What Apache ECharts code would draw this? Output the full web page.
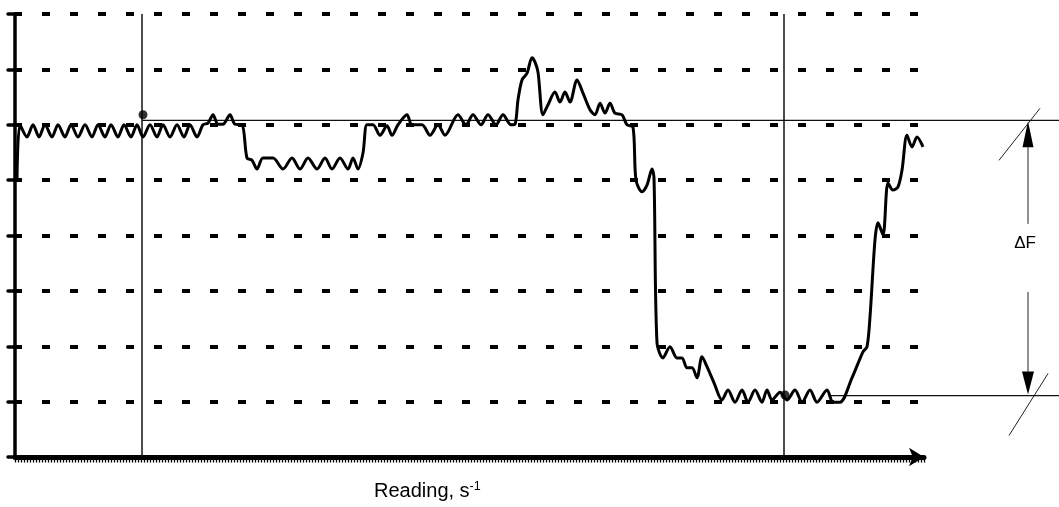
<!DOCTYPE html>
<html>
<head>
<meta charset="utf-8">
<script src="https://cdn.jsdelivr.net/npm/echarts@6/dist/echarts.min.js"></script>
<style>
  html, body { margin: 0; padding: 0; background: #fff; }
  #c { width: 1059px; height: 507px; }
</style>
</head>
<body>
<div id="c"></div>
<script>
// ---- data ----
// reading (x) positions of the trace
const readingX = [
  2, 5, 12, 18, 24, 30, 37, 43, 50, 56, 63, 70, 77, 83, 90, 96, 103, 109, 116, 122,
  128, 135, 142, 148, 155, 162, 169, 175, 182, 188, 193, 198, 203, 208, 215, 220, 227, 232,
  237, 242, 248, 258, 268, 277, 285, 293, 302, 310, 317, 325, 333, 338, 343, 348,
  352, 358, 365, 372, 377, 383, 392, 397, 407, 415, 423, 430,
  443, 451, 458, 466, 473, 481, 488, 496, 500,
  503, 507, 512, 517, 520, 523, 528, 533, 540, 545, 550, 555, 562, 568, 575, 580,
  585, 590, 595, 600, 607, 612, 618, 621, 627, 632, 637, 639, 642,
  648, 655, 662, 667, 672, 677, 682, 687, 692, 699,
  707, 713, 720, 727, 733, 740, 747, 752, 757, 765, 772, 780, 787, 795, 802, 812, 818, 825,
  837, 848, 852, 855, 860, 863, 868, 873, 878, 883, 887, 892, 897, 902, 908
];
// signal level (y) of the trace
const signalY = [
  5.00, 6.00, 5.78, 6.00, 5.78, 6.00, 5.78, 6.00, 5.78, 6.00, 5.78, 6.00, 5.78, 6.00, 5.78, 6.00, 5.78, 6.00, 5.78, 6.00,
  5.78, 6.00, 5.78, 6.00, 5.78, 6.00, 5.78, 6.00, 5.78, 6.00, 6.03, 6.18, 6.01, 6.01, 6.18, 6.01, 6.00, 5.40,
  5.36, 5.20, 5.40, 5.40, 5.20, 5.40, 5.20, 5.40, 5.20, 5.40, 5.20, 5.40, 5.20, 5.40, 5.20, 5.49,
  6.00, 6.00, 5.81, 5.98, 5.81, 6.00, 6.18, 6.00, 6.00, 5.81, 6.00, 5.81,
  6.18, 6.00, 6.18, 6.00, 6.18, 6.00, 6.18, 6.00, 6.01,
  6.45, 6.81, 6.93, 7.21, 7.13, 6.95, 6.18, 6.36, 6.59, 6.41, 6.59, 6.41, 6.81, 6.57, 6.27, 6.18,
  6.39, 6.21, 6.39, 6.21, 6.18, 6.00, 5.96, 5.00, 4.79, 4.91, 5.20, 5.04, 2.06,
  1.79, 1.99, 1.79, 1.79, 1.61, 1.61, 1.43, 1.81, 1.63, 1.34,
  1.03, 1.21, 0.99, 1.21, 0.99, 1.21, 0.99, 1.21, 1.03, 1.17, 1.03, 1.21, 0.99, 1.21, 0.99, 1.21, 0.99, 0.99,
  1.43, 1.90, 1.99, 2.53, 3.92, 4.23, 4.01, 4.95, 4.82, 4.88, 5.18, 5.81, 5.60, 5.78, 5.60
];
// vertical marker readings
const markerX = [127, 768.5];
// dots where the markers meet the reference levels
const dotX = [128, 770];
const dotY = [6.18, 1.12];
// reference levels (upper and lower) and where they start
const refLevels = [6.08, 1.11];
const refStartX = [127, 815];
// ΔF annotation
const deltaX = 1013;
const deltaLabel = 'ΔF';
const deltaLabelLevel = 3.85;
const deltaShaftTop = 4.21;
const deltaShaftBottom = 2.98;
// axis
const yMin = 0, yMax = 8, yStep = 1;
const xMin = 0, xMax = 909, xStep = 3;
const xTitle = 'Reading, s';
const xTitleSup = '-1';

const tracePoints = readingX.map((x, i) => [x, signalY[i]]);
const dots = dotX.map((x, i) => [x, dotY[i]]);

const chart = echarts.init(document.getElementById('c'));
const option = {
  animation: false,
  backgroundColor: '#fff',
  title: {
    text: '{a|' + xTitle + '}{b|' + xTitleSup + '}',
    left: 374, top: 480, padding: 0,
    textStyle: {
      fontWeight: 'normal',
      rich: {
        a: { fontFamily: 'Liberation Sans', fontWeight: 'normal', fontSize: 20, color: '#000', lineHeight: 23 },
        b: { fontFamily: 'Liberation Sans', fontWeight: 'normal', fontSize: 12.5, color: '#000', verticalAlign: 'top', lineHeight: 12 }
      }
    }
  },
  grid: { left: 15, right: 135, top: 14, bottom: 50 },
  xAxis: {
    type: 'value', min: xMin, max: xMax, interval: xStep,
    axisLine: { show: true, symbol: ['none', 'arrow'], symbolSize: [14, 15],
      lineStyle: { color: '#000', width: 5 } },
    axisTick: { show: true, length: 5.5, lineStyle: { color: '#000', width: 1.3 } },
    axisLabel: { show: false },
    splitLine: { show: false }
  },
  yAxis: {
    type: 'value', min: yMin, max: yMax, interval: yStep,
    axisLine: { show: true, lineStyle: { color: '#000', width: 3.5 } },
    axisTick: { show: true, length: 7, lineStyle: { color: '#000', width: 3.5, cap: 'round' } },
    axisLabel: { show: false },
    splitLine: { show: true, lineStyle: { color: '#000', width: 4, type: [8, 20], dashOffset: 1 } }
  },
  series: [
    {
      type: 'line', data: tracePoints, showSymbol: false, smooth: 0.3,
      lineStyle: { color: '#000', width: 3 },
      z: 5,
      markLine: {
        silent: true, symbol: 'none', label: { show: false },
        lineStyle: { color: '#111', width: 1.5, type: 'solid' },
        data: markerX.map(x => ({ xAxis: x }))
      }
    },
    {
      type: 'scatter', data: dots, symbolSize: 9,
      itemStyle: { color: '#000' }, z: 6
    }
  ]
};
chart.setOption(option);

function annotate() {
  const W = chart.getWidth();
  const up = chart.convertToPixel({ gridIndex: 0 }, [refStartX[0], refLevels[0]]);
  const lo = chart.convertToPixel({ gridIndex: 0 }, [refStartX[1], refLevels[1]]);
  const ax = chart.convertToPixel({ gridIndex: 0 }, [deltaX, refLevels[0]])[0];
  const labY = chart.convertToPixel({ gridIndex: 0 }, [deltaX, deltaLabelLevel])[1];
  const sTop = chart.convertToPixel({ gridIndex: 0 }, [deltaX, deltaShaftTop])[1];
  const sBot = chart.convertToPixel({ gridIndex: 0 }, [deltaX, deltaShaftBottom])[1];
  const yU = up[1], yL = lo[1];
  const thin = { stroke: '#111', lineWidth: 1.3 };
  const hair = { stroke: '#222', lineWidth: 1 };
  chart.setOption({
    graphic: [
      { type: 'line', shape: { x1: up[0], y1: yU, x2: W, y2: yU }, style: thin, z: 4 },
      { type: 'line', shape: { x1: lo[0], y1: yL, x2: W, y2: yL }, style: thin, z: 4 },
      // upper arrow
      { type: 'polygon', shape: { points: [[ax, yU + 1], [ax - 5.5, yU + 27], [ax + 5.5, yU + 27]] }, style: { fill: '#000' } },
      { type: 'line', shape: { x1: ax, y1: yU + 26, x2: ax, y2: sTop }, style: hair },
      // lower arrow
      { type: 'polygon', shape: { points: [[ax, yL - 1], [ax - 6, yL - 24], [ax + 6, yL - 24]] }, style: { fill: '#000' } },
      { type: 'line', shape: { x1: ax, y1: sBot, x2: ax, y2: yL - 23 }, style: hair },
      // slashes
      { type: 'line', shape: { x1: ax - 29, y1: yU + 40, x2: ax + 12, y2: yU - 12 }, style: hair },
      { type: 'line', shape: { x1: ax - 19, y1: yL + 40, x2: ax + 20, y2: yL - 22 }, style: hair },
      { type: 'text', x: ax - 3, y: labY,
        style: { text: deltaLabel, fontFamily: 'Liberation Sans', fontSize: 17, fill: '#000',
          align: 'center', verticalAlign: 'middle' } }
    ]
  });
}
annotate();
</script>
</body>
</html>
